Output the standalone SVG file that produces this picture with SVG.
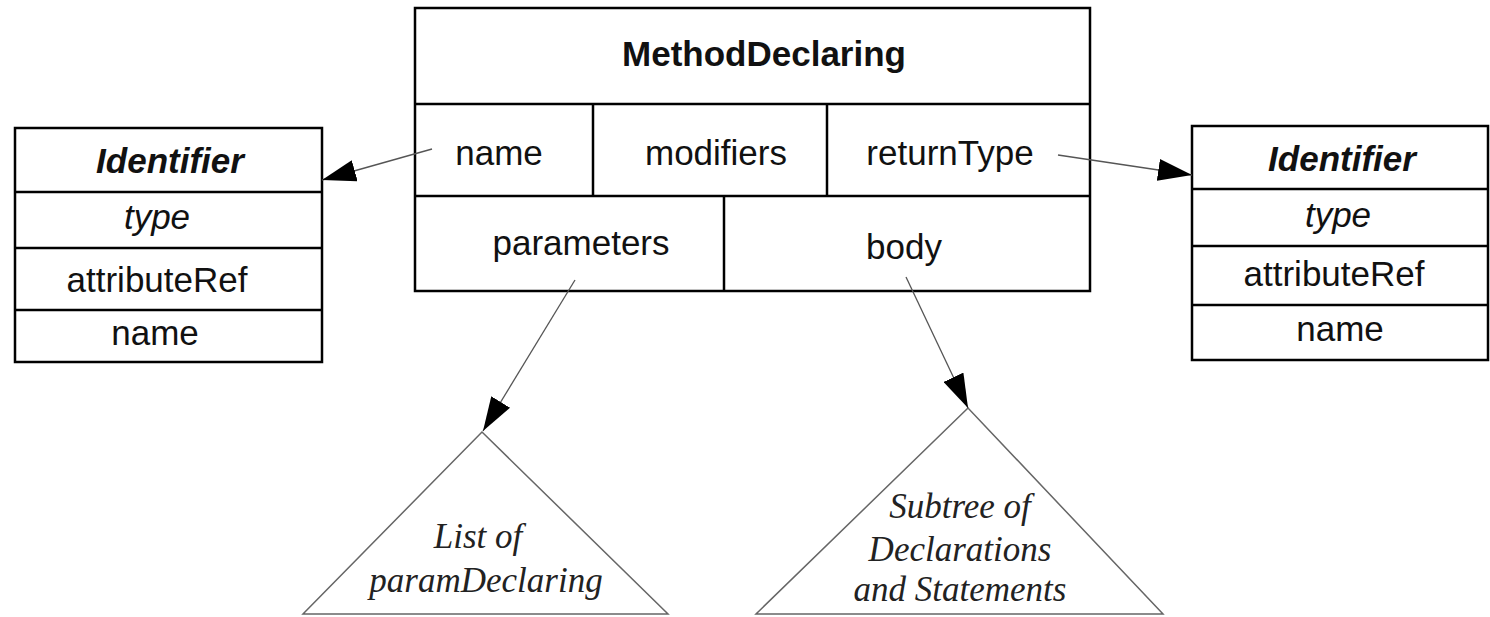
<svg xmlns="http://www.w3.org/2000/svg" width="1490" height="617" viewBox="0 0 1490 617">
<style>
.box{fill:#fff;stroke:#000;stroke-width:2.5}
.sep{stroke:#000;stroke-width:2.5}
.t{font-family:"Liberation Sans",Arial,sans-serif;font-size:35px;fill:#111;text-anchor:middle}
.b{font-weight:bold}
.i{font-style:italic}
.s{font-family:"Liberation Serif","Times New Roman",serif;font-style:italic;font-size:35px;fill:#222;text-anchor:middle}
.c{stroke:#555;stroke-width:1.3;fill:none}
.tri{fill:#fff;stroke:#666;stroke-width:1.5}
</style>
<defs>
<marker id="ah" markerWidth="34" markerHeight="22" refX="34" refY="11" orient="auto" markerUnits="userSpaceOnUse">
<path d="M0,0 L34,11 L0,22 Z" fill="#000"/>
</marker>
</defs>
<g id="method">
<rect class="box" x="415" y="8" width="675" height="283"/>
<line class="sep" x1="415" y1="104" x2="1090" y2="104"/>
<line class="sep" x1="415" y1="196" x2="1090" y2="196"/>
<line class="sep" x1="593" y1="104" x2="593" y2="196"/>
<line class="sep" x1="827" y1="104" x2="827" y2="196"/>
<line class="sep" x1="724" y1="196" x2="724" y2="291"/>
<text class="t b" x="764" y="66">MethodDeclaring</text>
<text class="t" x="499" y="165">name</text>
<text class="t" x="716" y="165">modifiers</text>
<text class="t" x="950" y="165">returnType</text>
<text class="t" x="581" y="255">parameters</text>
<text class="t" x="904" y="259">body</text>
</g>
<g id="identifier-left">
<rect class="box" x="15" y="128" width="307" height="234"/>
<line class="sep" x1="15" y1="192" x2="322" y2="192"/>
<line class="sep" x1="15" y1="248" x2="322" y2="248"/>
<line class="sep" x1="15" y1="310" x2="322" y2="310"/>
<text class="t b i" x="170" y="173">Identifier</text>
<text class="t i" x="157" y="229">type</text>
<text class="t" x="157" y="292">attributeRef</text>
<text class="t" x="155" y="345">name</text>
</g>
<g id="identifier-right">
<rect class="box" x="1192" y="126" width="296" height="234"/>
<line class="sep" x1="1192" y1="189" x2="1488" y2="189"/>
<line class="sep" x1="1192" y1="246" x2="1488" y2="246"/>
<line class="sep" x1="1192" y1="305" x2="1488" y2="305"/>
<text class="t b i" x="1342" y="171">Identifier</text>
<text class="t i" x="1338" y="227">type</text>
<text class="t" x="1334" y="286">attributeRef</text>
<text class="t" x="1340" y="341">name</text>
</g>
<g id="list-params">
<polygon class="tri" points="482,432 303,614 668,614"/>
<text class="s" x="478" y="548">List of</text>
<text class="s" x="486" y="592">paramDeclaring</text>
</g>
<g id="subtree">
<polygon class="tri" points="968,408 756,614 1163,614"/>
<text class="s" x="960" y="518">Subtree of</text>
<text class="s" x="960" y="561">Declarations</text>
<text class="s" x="960" y="601">and Statements</text>
</g>
<g id="connectors">
<line class="c" x1="432" y1="149" x2="322" y2="180" marker-end="url(#ah)"/>
<line class="c" x1="1058" y1="155" x2="1192" y2="175" marker-end="url(#ah)"/>
<line class="c" x1="575" y1="280" x2="483" y2="431" marker-end="url(#ah)"/>
<line class="c" x1="906" y1="277" x2="968" y2="408" marker-end="url(#ah)"/>
</g>
</svg>
